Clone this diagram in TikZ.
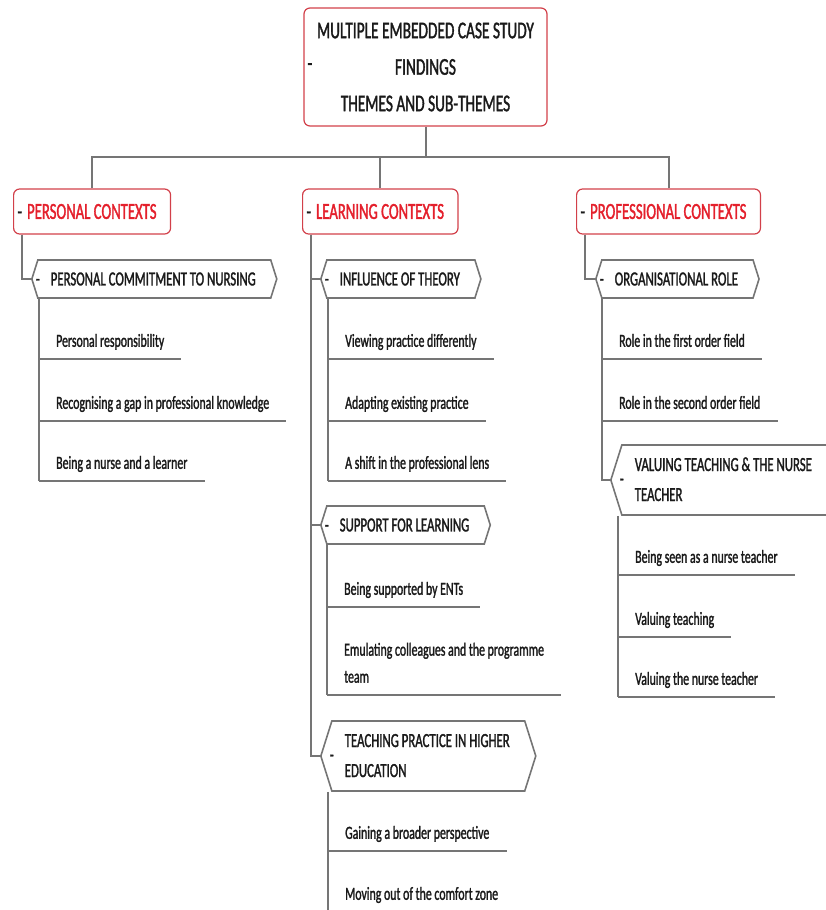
\documentclass[tikz,border=0pt]{standalone}
\usepackage{fontspec}
\setmainfont{Carlito}[FakeStretch=0.64,FakeBold=1.4]
\definecolor{framered}{HTML}{D2404A}
\definecolor{themered}{HTML}{E4202C}
\definecolor{linegray}{HTML}{757575}
\definecolor{inkgray}{HTML}{1A1A1A}
\usetikzlibrary{shapes.symbols}

\begin{document}
\begin{tikzpicture}[x=1pt,y=-1pt,
  conn/.style={linegray,line width=2pt},
  titlebox/.style={draw=framered,line width=1.2pt,rounded corners=6pt,minimum width=243pt,minimum height=118pt,align=center,text=inkgray,font=\fontsize{24}{36.5}\selectfont},
  themebox/.style={draw=framered,line width=1.2pt,rounded corners=6pt,anchor=west,minimum height=45pt,inner xsep=4pt,text=themered,font=\fontsize{23}{28}\selectfont,execute at begin node={\textcolor{inkgray}{-}\hspace{5pt}},execute at end node={\hspace{10pt}}},
  subtheme/.style={shape=signal,signal to=east and west,signal pointer angle=145,draw=linegray,line width=1.6pt,anchor=west,minimum height=38pt,inner xsep=0pt,inner ysep=5pt,text=inkgray,font=\fontsize{20}{30}\selectfont,execute at begin node={\hspace{-2pt}-\hspace{11pt}},execute at end node={\hspace{15pt}}},
  leaf/.style={anchor=south west,inner xsep=17pt,inner ysep=7pt,text=inkgray,font=\fontsize{18.5}{27}\selectfont},
  oneline/.style={leaf,text height=13pt,text depth=5pt},
  twoline/.style={leaf,align=left,inner ysep=12pt}]
\useasboundingbox (0,0) rectangle (826,910);

\node[titlebox,label={[anchor=west,inner sep=4pt,text=inkgray,font=\fontsize{24}{24}\selectfont]west:-}] (findings) at (425.5,67) {MULTIPLE EMBEDDED CASE STUDY\\FINDINGS\\THEMES AND SUB-THEMES};
\node[themebox] (personal) at (13,211.5) {PERSONAL CONTEXTS};
\node[themebox] (learning) at (302,211.5) {LEARNING CONTEXTS};
\node[themebox] (professional) at (576,211.5) {PROFESSIONAL CONTEXTS};

\coordinate (bus) at (425.5,157);
\draw[conn] (findings.south) -- (bus);
\draw[conn] (personal.north) |- (bus);
\draw[conn] (professional.north) |- (bus);
\draw[conn] (learning.north) -- (learning.north |- bus);

\node[subtheme] (commitment) at (31,279) {PERSONAL COMMITMENT TO NURSING};
\node[subtheme] (theory) at (320,279) {INFLUENCE OF THEORY};
\node[subtheme] (support) at (320,525) {SUPPORT FOR LEARNING};
\node[subtheme] (higher) at (320,756) {\begin{tabular}{@{}l@{}}TEACHING PRACTICE IN HIGHER\\EDUCATION\end{tabular}};
\node[subtheme] (orgrole) at (595,279) {ORGANISATIONAL ROLE};
\node[subtheme] (valuing) at (610,480) {\begin{tabular}{@{}l@{}}VALUING TEACHING \& THE NURSE\\TEACHER\end{tabular}};

\draw[conn] ([xshift=9pt]personal.south west) |- (commitment.west);
\draw[conn] ([xshift=9pt]learning.south west) |- (theory.west);
\draw[conn] ([xshift=9pt]learning.south west) |- (support.west);
\draw[conn] ([xshift=9pt]learning.south west) |- (higher.west);
\draw[conn] ([xshift=9pt]professional.south west) |- (orgrole.west);

\node[oneline] (resp) at (39,359) {Personal responsibility};
\node[oneline] (gap) at (39,421) {Recognising a gap in professional knowledge};
\node[oneline] (nurselearner) at (39,481) {Being a nurse and a learner};
\node[oneline] (viewing) at (328,359) {Viewing practice differently};
\node[oneline] (adapting) at (328,421) {Adapting existing practice};
\node[oneline] (lens) at (328,481) {A shift in the professional lens};
\node[oneline] (ents) at (327,607) {Being supported by ENTs};
\node[twoline] (emulating) at (327,695) {Emulating colleagues and the programme\\team};
\node[oneline] (broader) at (328,851) {Gaining a broader perspective};
\node[oneline] (comfort) at (328,912) {Moving out of the comfort zone};
\node[oneline] (firstorder) at (602,359) {Role in the first order field};
\node[oneline] (secondorder) at (602,421) {Role in the second order field};
\node[oneline] (seen) at (618,575) {Being seen as a nurse teacher};
\node[oneline] (valteach) at (618,637) {Valuing teaching};
\node[oneline] (valnurse) at (618,697) {Valuing the nurse teacher};

\foreach \leaf in {resp,gap,nurselearner,viewing,adapting,lens,ents,emulating,broader,comfort,firstorder,secondorder,seen,valteach,valnurse}
  \draw[conn] (\leaf.south west) -- (\leaf.south east);

\draw[conn] (commitment.south -| resp.south west) -- (nurselearner.south west);
\draw[conn] (theory.south -| viewing.south west) -- (lens.south west);
\draw[conn] (support.south -| ents.south west) -- (emulating.south west);
\draw[conn] (higher.south -| broader.south west) -- (comfort.south west);
\draw[conn] (orgrole.south -| firstorder.south west) |- (valuing.west);
\draw[conn] (valuing.south -| seen.south west) -- (valnurse.south west);
\end{tikzpicture}
\end{document}
